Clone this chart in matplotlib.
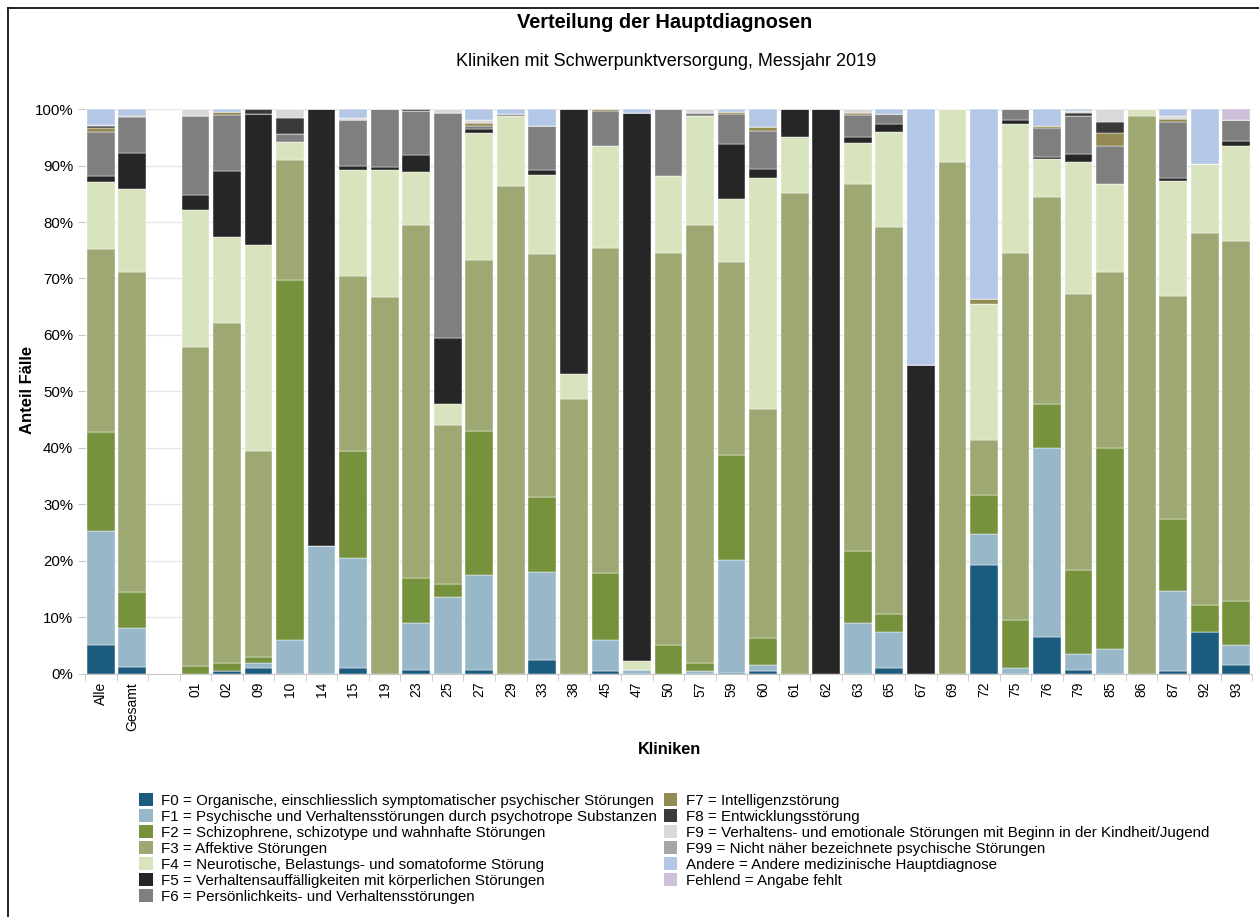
import numpy as np
import matplotlib
matplotlib.use('Agg')
import matplotlib.pyplot as plt
from matplotlib.lines import Line2D
from matplotlib.ticker import FixedLocator, PercentFormatter

plt.rcParams['font.family'] = ['Liberation Sans', 'DejaVu Sans']

kliniken = ["Alle", "Gesamt", "", "01", "02", "09", "10", "14", "15", "19", "23", "25", "27",
            "29", "33", "38", "45", "47", "50", "57", "59", "60", "61", "62", "63", "65", "67",
            "69", "72", "75", "76", "79", "85", "86", "87", "92", "93"]

# Anteile in % je Hauptdiagnose (Reihenfolge wie kliniken)
f0 = [5.0, 1.1, 0, 0, 0.5, 0.9, 0, 0, 0.9, 0, 0.6, 0, 0.6, 0, 2.4, 0, 0.5, 0, 0, 0,
      0.1, 0.5, 0, 0, 0, 0.9, 0, 0, 19.2, 0, 6.4, 0.6, 0, 0, 0.4, 7.3, 1.5]
f1 = [20.3, 6.9, 0, 0, 0, 1.0, 5.9, 22.6, 19.5, 0, 8.4, 13.5, 16.8, 0, 15.6, 0, 5.5, 0.7, 0, 0.4,
      20.0, 1.1, 0, 0, 9.0, 6.4, 0, 0, 5.6, 0.9, 33.6, 2.8, 4.3, 0, 14.2, 0, 3.5]
f2 = [17.5, 6.5, 0, 1.3, 1.3, 1.1, 63.9, 0, 19.0, 0, 8.0, 2.3, 25.6, 0, 13.3, 0, 11.8, 0, 5.1, 1.5,
      18.7, 4.7, 0, 0, 12.7, 3.3, 0, 0, 6.9, 8.6, 7.8, 15.0, 35.6, 0, 12.7, 4.8, 7.9]
f3 = [32.5, 56.6, 0, 56.5, 60.3, 36.4, 21.1, 0, 31.1, 66.8, 62.5, 28.2, 30.2, 86.3, 43.1, 48.7, 57.6, 0, 69.4, 77.5,
      34.2, 40.5, 85.1, 0, 65.1, 68.6, 0, 90.6, 9.6, 65.0, 36.6, 48.9, 31.3, 98.8, 39.6, 65.9, 63.8]
f4 = [11.7, 14.7, 0, 24.3, 15.3, 36.6, 3.2, 0, 18.7, 22.5, 9.4, 3.8, 22.5, 12.5, 14.0, 4.4, 18.0, 1.5, 13.7, 19.4,
      11.1, 41.0, 9.9, 0, 7.2, 16.7, 0, 9.4, 24.1, 22.8, 6.8, 23.4, 15.5, 1.2, 20.4, 12.3, 16.7]
f5 = [1.2, 6.4, 0, 2.6, 11.7, 23.2, 0, 77.4, 0.8, 0.4, 3.0, 11.6, 0.8, 0, 0.8, 46.9, 0, 97.2, 0, 0,
      9.8, 1.6, 5.0, 100, 1.0, 1.4, 54.7, 0, 0, 0.7, 0.4, 1.3, 0, 0, 0.5, 0, 1.0]
f6 = [7.7, 6.4, 0, 14.1, 9.9, 0, 1.5, 0, 8.0, 10.3, 7.7, 40.0, 0.5, 0.4, 7.8, 0, 6.2, 0, 11.8, 0.6,
      5.3, 6.8, 0, 0, 4.0, 1.8, 0, 0, 0, 2.0, 5.0, 6.8, 6.7, 0, 10.0, 0, 3.7]
f7 = [0.8, 0.2, 0, 0, 0.5, 0, 0, 0, 0, 0, 0, 0, 0.6, 0, 0, 0, 0.4, 0, 0, 0,
      0.3, 0.6, 0, 0, 0.4, 0, 0, 0, 0.9, 0, 0.4, 0, 2.3, 0, 0.4, 0, 0]
f8 = [0.3, 0, 0, 0, 0, 0.8, 2.9, 0, 0, 0, 0.4, 0, 0, 0, 0, 0, 0, 0, 0, 0,
      0, 0, 0, 0, 0, 0, 0, 0, 0, 0, 0, 0.5, 2.1, 0, 0, 0, 0]
f9 = [0.2, 0, 0, 1.2, 0, 0, 1.5, 0, 0.4, 0, 0, 0.6, 0.5, 0, 0, 0, 0, 0, 0, 0.6,
      0, 0, 0, 0, 0.6, 0, 0, 0, 0, 0, 0, 0.3, 2.2, 0, 0.6, 0, 0]
f99 = [0] * 37
andere = [2.8, 1.2, 0, 0, 0.5, 0, 0, 0, 1.6, 0, 0, 0, 1.9, 0.8, 3.0, 0, 0, 0.6, 0, 0,
          0.5, 3.2, 0, 0, 0, 0.9, 45.3, 0, 33.7, 0, 3.0, 0.4, 0, 0, 1.2, 9.7, 0]
fehlend = [0] * 36 + [1.9]

labels = ["F0 = Organische, einschliesslich symptomatischer psychischer Störungen",
          "F1 = Psychische und Verhaltensstörungen durch psychotrope Substanzen",
          "F2 = Schizophrene, schizotype und wahnhafte Störungen",
          "F3 = Affektive Störungen",
          "F4 = Neurotische, Belastungs- und somatoforme Störung",
          "F5 = Verhaltensauffälligkeiten mit körperlichen Störungen",
          "F6 = Persönlichkeits- und Verhaltensstörungen",
          "F7 = Intelligenzstörung",
          "F8 = Entwicklungsstörung",
          "F9 = Verhaltens- und emotionale Störungen mit Beginn in der Kindheit/Jugend",
          "F99 = Nicht näher bezeichnete psychische Störungen",
          "Andere = Andere medizinische Hauptdiagnose",
          "Fehlend = Angabe fehlt"]
colors = ["#1b5c7e", "#98b8ca", "#76923c", "#9ea872", "#d7e4bd", "#262626", "#7f7f7f",
          "#948a54", "#3a3a3a", "#d9d9d9", "#a6a6a6", "#b4c7e7", "#ccc0da"]
series = [f0, f1, f2, f3, f4, f5, f6, f7, f8, f9, f99, andere, fehlend]

fig = plt.figure(figsize=(12.59, 9.17), dpi=100)
ax = fig.add_axes([0.0675, 0.2655, 0.927, 0.6155])

x = np.arange(len(kliniken))
bottom = np.zeros(len(kliniken))
handles = []
for vals, col, lab in zip(series, colors, labels):
    v = np.array(vals, dtype=float)
    ax.bar(x, v, bottom=bottom, width=0.88, color=col, edgecolor='white', linewidth=0.3, zorder=3)
    bottom += v
    handles.append(plt.Rectangle((0, 0), 1, 1, facecolor=col, edgecolor='none'))

ax.set_xlim(-0.5, len(kliniken) - 0.5)
ax.set_ylim(0, 100)
ax.set_yticks(np.arange(0, 101, 10))
ax.yaxis.set_major_formatter(PercentFormatter(decimals=0))
ax.grid(axis='y', color='#e6e6e6', linewidth=1, zorder=0)
ax.set_xticks(x)
ax.set_xticklabels(kliniken, rotation=90, fontsize=10)
ax.tick_params(axis='x', length=0, pad=6)
ax.xaxis.set_minor_locator(FixedLocator(np.arange(-0.5, len(kliniken), 1)))
ax.tick_params(axis='x', which='minor', length=5, color='#c8c8c8')
ax.tick_params(axis='y', length=5, color='#c8c8c8', labelsize=10.8)
for s in ['top', 'right', 'left']:
    ax.spines[s].set_visible(False)
ax.spines['bottom'].set_color('#c8c8c8')

fig.text(28 / 1259, 1 - 390 / 917, "Anteil Fälle", fontsize=12, fontweight='bold',
         rotation=90, ha='center', va='center')
fig.text(0.532, 1 - 749 / 917, "Kliniken", fontsize=11.7, fontweight='bold', ha='center', va='center')
fig.text(0.528, 1 - 22 / 917, "Verteilung der Hauptdiagnosen", fontsize=14.4, fontweight='bold',
         ha='center', va='center')
fig.text(0.529, 1 - 62 / 917, "Kliniken mit Schwerpunktversorgung, Messjahr 2019", fontsize=13,
         ha='center', va='center')

fig.legend(handles, labels, loc='upper left', bbox_to_anchor=(139 / 1259, 1 - 793 / 917),
           ncol=2, frameon=False, fontsize=10.9, handlelength=0.9, handleheight=0.9,
           handletextpad=0.55, labelspacing=0.1, columnspacing=0.45, borderaxespad=0, borderpad=0)

# Rahmen links und oben
fig.add_artist(Line2D([8 / 1259, 8 / 1259], [0, 1 - 8 / 917], color='black', linewidth=1.2))
fig.add_artist(Line2D([8 / 1259, 1], [1 - 8 / 917, 1 - 8 / 917], color='black', linewidth=1.2))

fig.savefig('out.png', dpi=100)
